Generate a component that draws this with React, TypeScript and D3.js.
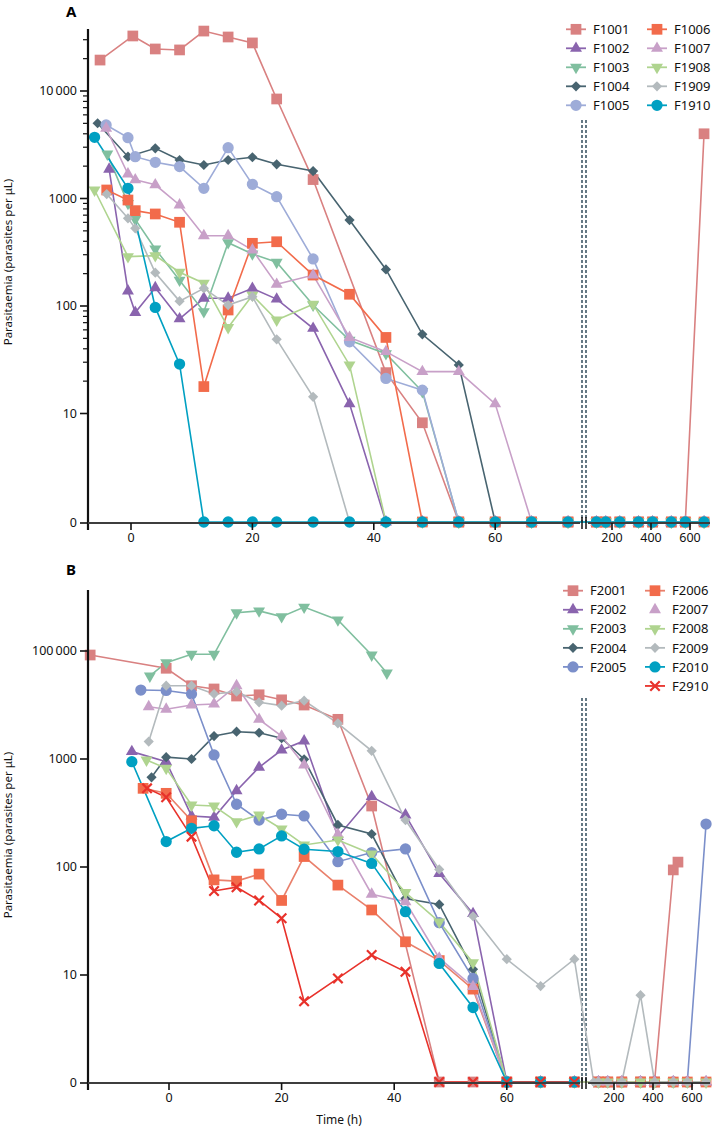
import React from "react";
import * as d3 from "d3";

type Pt = [number, number];

// ---------- Panel A data (time h, parasites/µL) ----------
const F1001: Pt[] = [[-5.1,19400],[0.3,32500],[4,24600],[8,24100],[12,36100],[16,31800],[20,28000],[24,8430],[30,1500],[42,24],[48,8.2],[54,0],[60,0],[66,0],[72,0],[120,0],[168,0],[240,0],[336,0],[408,0],[504,0],[576,0],[672,4000]];
const F1002: Pt[] = [[-3.6,1870],[-0.5,138],[0.7,87],[4,148],[8,76],[12,118],[16,118],[20,146],[24,116],[30,62],[36,12.3],[42,0],[48,0],[54,0],[60,0],[66,0],[72,0],[120,0],[168,0],[240,0],[336,0],[408,0],[504,0],[576,0],[672,0]];
const F1003: Pt[] = [[-3.9,2590],[-0.5,900],[0.7,640],[4,339],[8,174],[12,88.5],[16,388],[20,305],[24,255],[30,102],[36,48],[42,36],[48,16],[54,0],[60,0],[66,0],[72,0],[120,0],[168,0],[240,0],[336,0],[408,0],[504,0],[576,0],[672,0]];
const F1004: Pt[] = [[-5.5,5010],[-0.5,2450],[4,2930],[8,2280],[12,2050],[16,2280],[20,2420],[24,2080],[30,1800],[36,630],[42,219],[48,54.5],[54,28.3],[60,0],[66,0],[72,0],[120,0],[168,0],[240,0],[336,0],[408,0],[504,0],[576,0],[672,0]];
const F1005: Pt[] = [[-4.1,4830],[-0.5,3680],[0.7,2450],[4,2170],[8,1980],[12,1245],[16,2970],[20,1355],[24,1040],[30,274],[36,46.5],[42,21.2],[48,16.5],[54,0],[60,0],[66,0],[72,0],[120,0],[168,0],[240,0],[336,0],[408,0],[504,0],[576,0],[672,0]];
const F1006: Pt[] = [[-4,1200],[-0.5,968],[0.7,771],[4,718],[8,601],[12,17.8],[16,91.8],[20,383],[24,396],[30,194],[36,128.6],[42,51],[48,0],[54,0],[60,0],[66,0],[72,0],[120,0],[168,0],[240,0],[336,0],[408,0],[504,0],[576,0],[672,0]];
const F1007: Pt[] = [[-4.1,4500],[-0.5,1690],[0.7,1490],[4,1340],[8,871],[12,451],[16,451],[20,332],[24,159],[30,194],[36,51],[42,37.6],[48,24.5],[54,24.5],[60,12.3],[66,0],[72,0],[120,0],[168,0],[240,0],[336,0],[408,0],[504,0],[576,0],[672,0]];
const F1908: Pt[] = [[-6,1200],[-0.5,288],[4,294],[8,206],[12,163],[16,63],[20,126],[24,74],[30,104],[36,28.3],[42,0],[48,0],[54,0],[60,0],[66,0],[72,0],[120,0],[168,0],[240,0],[336,0],[408,0],[504,0],[576,0],[672,0]];
const F1909: Pt[] = [[-4,1100],[-0.5,654],[0.7,528],[4,204],[8,111],[12,146],[16,102],[20,122],[24,49],[30,14.3],[36,0],[42,0],[48,0],[54,0],[60,0],[66,0],[72,0],[120,0],[168,0],[240,0],[336,0],[408,0],[504,0],[576,0],[672,0]];
const F1910: Pt[] = [[-6,3710],[-0.5,1245],[4,97],[8,28.8],[12,0],[16,0],[20,0],[24,0],[30,0],[36,0],[42,0],[48,0],[54,0],[60,0],[66,0],[72,0],[120,0],[168,0],[240,0],[336,0],[408,0],[504,0],[576,0],[672,0]];

// ---------- Panel B data ----------
const F2001: Pt[] = [[-14,9180],[-0.5,6920],[4,4770],[8,4450],[12,3830],[16,3930],[20,3530],[24,3160],[30,2330],[36,367],[48,0],[54,0],[60,0],[66,0],[72,0],[120,0],[168,0],[240,0],[336,0],[408,0],[504,94],[528,111]];
const F2002: Pt[] = [[-6.6,1170],[-0.5,944],[4,297],[8,288],[12,509],[16,838],[20,1210],[24,1470],[30,191],[36,448],[42,303],[48,87],[54,37],[60,0],[66,0],[72,0],[120,0],[168,0],[240,0],[336,0],[408,0],[504,0],[576,0],[672,0]];
const F2003: Pt[] = [[-3.4,5870],[-0.5,7800],[4,9320],[8,9320],[12,22600],[16,23500],[20,20800],[24,25500],[30,19400],[36,9180],[38.7,6250]];
const F2004: Pt[] = [[-3.1,677],[-0.5,1040],[4,1000],[8,1630],[12,1790],[16,1750],[20,1560],[24,994],[30,245],[36,202],[42,51],[48,45],[54,11.3],[60,0],[66,0],[72,0],[120,0],[168,0],[240,0],[336,0],[408,0],[504,0],[576,0],[672,0]];
const F2005: Pt[] = [[-5,4350],[-0.5,4310],[4,4000],[8,1090],[12,381],[16,272],[20,308],[24,297],[30,112],[36,136],[42,147],[48,30.5],[54,9.3],[60,0],[66,0],[72,0],[120,0],[168,0],[240,0],[336,0],[408,0],[504,0],[576,0],[672,250]];
const F2006: Pt[] = [[-4.6,535],[-0.5,481],[4,268],[8,76],[12,74],[16,86],[20,49],[24,125],[30,68],[36,40],[42,20.3],[48,13.6],[54,7.4],[60,0],[66,0],[72,0],[120,0],[168,0],[240,0],[336,0],[408,0],[504,0],[576,0],[672,0]];
const F2007: Pt[] = [[-3.6,3050],[-0.5,2890],[4,3160],[8,3230],[12,4770],[16,2330],[20,1630],[24,880],[30,200],[36,56],[42,47.7],[48,14.3],[54,7.8],[60,0],[66,0],[72,0],[120,0],[168,0],[240,0],[336,0],[408,0],[504,0],[576,0],[672,0]];
const F2008: Pt[] = [[-4,979],[-0.5,820],[4,375],[8,367],[12,263],[16,303],[20,225],[24,160],[30,178],[36,132],[42,58],[48,31],[54,13],[60,0],[66,0],[72,0],[120,0],[168,0],[240,0],[336,0],[408,0],[504,0],[576,0],[672,0]];
const F2009: Pt[] = [[-3.6,1450],[-0.5,4770],[4,4770],[8,4000],[12,4200],[16,3350],[20,3120],[24,3470],[30,2140],[36,1190],[42,272],[48,95],[54,35],[60,14],[66,7.9],[72,14],[96,0],[120,0],[168,0],[240,0],[336,6.5],[408,0],[504,0],[576,0],[672,0]];
const F2010: Pt[] = [[-6.6,944],[-0.5,172],[4,228],[8,241],[12,137],[16,147],[20,194],[24,146],[30,139],[36,108],[42,38.6],[48,12.8],[54,5.0],[60,0],[66,0],[72,0]];
const F2910: Pt[] = [[-3.9,535],[-0.5,442],[4,191],[8,60],[12,65],[16,49],[20,33.5],[24,5.7],[30,9.3],[36,15.3],[42,10.7],[48,0],[54,0],[60,0],[66,0],[72,0]];

// ---------- ticks ----------
const Y_TICKS = [10000, 1000, 100, 10, 0];
const Y_LABELS_A = ["10\u2009000", "1000", "100", "10", "0"];
const Y_LABELS_B = ["100\u2009000", "1000", "100", "10", "0"];
const X_TICKS_MAIN = [0, 20, 40, 60];
const X_TICKS_RIGHT = [200, 400, 600];

type Marker = "square" | "triangle" | "down" | "diamond" | "circle" | "x" ;
interface Series { name: string; data: Pt[]; stroke: string; fill: string; marker: Marker; legendLine?: boolean }

const C = {
  salmon: "#d98181", purple: "#8a64ae", teal: "#80bf9f", slate: "#486470",
  peri: "#9eacd8", periB: "#7b8fca", orange: "#f26b4b", lilac: "#c8a0c8",
  lgreen: "#afd48f", gray: "#b3babd", cyan: "#00a0c2", red: "#e8322b",
};

const seriesA: Series[] = [
  { name: "F1001", data: F1001, stroke: C.salmon, fill: C.salmon, marker: "square" },
  { name: "F1002", data: F1002, stroke: C.purple, fill: C.purple, marker: "triangle" },
  { name: "F1003", data: F1003, stroke: C.teal, fill: C.teal, marker: "down" },
  { name: "F1004", data: F1004, stroke: C.slate, fill: C.slate, marker: "diamond" },
  { name: "F1005", data: F1005, stroke: C.peri, fill: C.peri, marker: "circle" },
  { name: "F1006", data: F1006, stroke: C.orange, fill: C.orange, marker: "square" },
  { name: "F1007", data: F1007, stroke: C.lilac, fill: C.lilac, marker: "triangle" },
  { name: "F1908", data: F1908, stroke: C.lgreen, fill: C.lgreen, marker: "down" },
  { name: "F1909", data: F1909, stroke: C.gray, fill: C.gray, marker: "diamond" },
  { name: "F1910", data: F1910, stroke: C.cyan, fill: C.cyan, marker: "circle" },
];
const seriesB: Series[] = [
  { name: "F2001", data: F2001, stroke: C.salmon, fill: C.salmon, marker: "square" },
  { name: "F2002", data: F2002, stroke: C.purple, fill: C.purple, marker: "triangle" },
  { name: "F2003", data: F2003, stroke: C.teal, fill: C.teal, marker: "down" },
  { name: "F2004", data: F2004, stroke: C.slate, fill: C.slate, marker: "diamond" },
  { name: "F2005", data: F2005, stroke: C.periB, fill: C.periB, marker: "circle" },
  { name: "F2006", data: F2006, stroke: "#e9806c", fill: C.orange, marker: "square" },
  { name: "F2007", data: F2007, stroke: C.lilac, fill: C.lilac, marker: "triangle", legendLine: false },
  { name: "F2008", data: F2008, stroke: C.lgreen, fill: C.lgreen, marker: "down" },
  { name: "F2009", data: F2009, stroke: C.gray, fill: C.gray, marker: "diamond" },
  { name: "F2010", data: F2010, stroke: C.cyan, fill: C.cyan, marker: "circle" },
  { name: "F2910", data: F2910, stroke: C.red, fill: C.red, marker: "x" },
];

const FONT = "'Noto Sans', 'Open Sans', sans-serif";

function MarkerShape({ m, x, y, fill }: { m: Marker; x: number; y: number; fill: string }) {
  const sq = d3.symbol().type(d3.symbolSquare);
  if (m === "square") return <path d={sq.size(115)()!} transform={`translate(${x},${y})`} fill={fill} />;
  if (m === "diamond") return <path d={sq.size(52)()!} transform={`translate(${x},${y}) rotate(45)`} fill={fill} />;
  if (m === "circle") return <path d={d3.symbol().type(d3.symbolCircle).size(100)()!} transform={`translate(${x},${y})`} fill={fill} />;
  if (m === "triangle") return <path d={d3.symbol().type(d3.symbolTriangle).size(62)()!} transform={`translate(${x},${y})`} fill={fill} />;
  if (m === "down") return <path d={d3.symbol().type(d3.symbolTriangle).size(62)()!} transform={`translate(${x},${y}) rotate(180)`} fill={fill} />;
  return <path d={d3.symbol().type(d3.symbolX).size(60)()!} transform={`translate(${x},${y})`} fill="none" stroke={fill} strokeWidth={2.2} />;
}

interface PanelCfg {
  label: string; labelY: number;
  series: Series[]; yLabels: string[];
  yRange: [number, number];
  yTop: number; axisY: number; zeroY: number;
  xMainRange: [number, number];
  xRightRange: [number, number];
  dashTop: number;
  legendX: [number, number]; legendY0: number; legendDy: number;
  minor: boolean;
  titleY: number;
}

const LEFT = 88, MAIN_END = 580, BREAK1 = 582, BREAK2 = 586, RIGHT_START = 588, RIGHT_END = 710;

function Panel({ cfg }: { cfg: PanelCfg }) {
  const yLog = d3.scaleLog().domain([1, 10000]).range(cfg.yRange);
  const Y = (v: number) => (v <= 0 ? cfg.zeroY : yLog(v));
  const xMain = d3.scaleLinear().domain([0, 60]).range(cfg.xMainRange);
  const xRight = d3.scaleLinear().domain([200, 600]).range(cfg.xRightRange);
  const X = (t: number) => (t <= 74 ? xMain(t) : xRight(t));
  const line = d3.line<Pt>().x(d => X(d[0])).y(d => Y(d[1]));

  const minorVals: number[] = [];
  if (cfg.minor) {
    for (let k = 1; k <= 4; k++) for (let m = 2; m <= 9; m++) {
      const v = m * Math.pow(10, k);
      if (yLog(v) >= cfg.yTop) minorVals.push(v);
    }
  }
  const legendCols = [cfg.series.slice(0, 5), cfg.series.slice(5)];

  return (
    <g>
      <text x={66} y={cfg.labelY} fontFamily={FONT} fontWeight="bold" fontSize={15}>{cfg.label}</text>
      <text transform={`translate(12,${cfg.titleY}) rotate(-90)`} textAnchor="middle" fontFamily={FONT} fontSize={11.5} fill="#111">
        Parasitaemia (parasites per μL)
      </text>
      {[BREAK1, BREAK2].map(bx => (
        <line key={bx} x1={bx} x2={bx} y1={cfg.dashTop} y2={cfg.axisY} stroke="#3f5866" strokeWidth={1.6} strokeDasharray="3,2" />
      ))}
      {cfg.series.map(s => (
        <path key={s.name + "l"} d={line(s.data)!} fill="none" stroke={s.stroke} strokeWidth={1.6} />
      ))}
      {cfg.series.map(s => (
        <g key={s.name + "m"}>
          {s.data.map((d, i) => <MarkerShape key={i} m={s.marker} x={X(d[0])} y={Y(d[1])} fill={s.fill} />)}
        </g>
      ))}
      <line x1={LEFT} x2={LEFT} y1={cfg.yTop} y2={cfg.axisY + 7} stroke="#111" strokeWidth={2.2} />
      {Y_TICKS.map((v, i) => (
        <g key={v}>
          <line x1={LEFT - 8} x2={LEFT} y1={Y(v) + (v <= 0 ? 1 : 0)} y2={Y(v) + (v <= 0 ? 1 : 0)} stroke="#111" strokeWidth={1.6} />
          <text x={LEFT - 11} y={Y(v) + (v <= 0 ? 1 : 0)} dy="0.35em" textAnchor="end" fontFamily={FONT} fontSize={12.5} fill="#111">{cfg.yLabels[i]}</text>
        </g>
      ))}
      {minorVals.map(v => (
        <line key={"mn" + v} x1={LEFT - 5} x2={LEFT} y1={yLog(v)} y2={yLog(v)} stroke="#111" strokeWidth={1.2} />
      ))}
      <line x1={LEFT} x2={MAIN_END} y1={cfg.axisY} y2={cfg.axisY} stroke="#3d3d3d" strokeWidth={2} />
      <line x1={RIGHT_START} x2={RIGHT_END} y1={cfg.axisY} y2={cfg.axisY} stroke="#3d3d3d" strokeWidth={2} />
      {[BREAK1, BREAK2].map(bx => (
        <line key={"b" + bx} x1={bx} x2={bx} y1={cfg.axisY - 6} y2={cfg.axisY + 6} stroke="#111" strokeWidth={1.5} />
      ))}
      {X_TICKS_MAIN.map(t => (
        <g key={"xm" + t}>
          <line x1={xMain(t)} x2={xMain(t)} y1={cfg.axisY} y2={cfg.axisY + 7} stroke="#111" strokeWidth={1.6} />
          <text x={xMain(t)} y={cfg.axisY + 19} textAnchor="middle" fontFamily={FONT} fontSize={12.5} fill="#111">{t}</text>
        </g>
      ))}
      {X_TICKS_RIGHT.map(t => (
        <g key={"xr" + t}>
          <line x1={xRight(t)} x2={xRight(t)} y1={cfg.axisY} y2={cfg.axisY + 7} stroke="#111" strokeWidth={1.6} />
          <text x={xRight(t)} y={cfg.axisY + 19} textAnchor="middle" fontFamily={FONT} fontSize={12.5} fill="#111">{t}</text>
        </g>
      ))}
      {legendCols.map((col, ci) => col.map((s, ri) => {
        const lx = cfg.legendX[ci];
        const ly = cfg.legendY0 + ri * cfg.legendDy;
        return (
          <g key={"lg" + s.name}>
            {s.legendLine !== false && <line x1={lx - 10} x2={lx + 10} y1={ly} y2={ly} stroke={s.stroke} strokeWidth={1.8} />}
            <MarkerShape m={s.marker} x={lx} y={ly} fill={s.fill} />
            <text x={lx + 17} y={ly} dy="0.36em" fontFamily={FONT} fontSize={13} fill="#111">{s.name}</text>
          </g>
        );
      }))}
    </g>
  );
}

const cfgA: PanelCfg = {
  label: "A", labelY: 17, series: seriesA, yLabels: Y_LABELS_A,
  yRange: [521, 91], yTop: 29, axisY: 523, zeroY: 522,
  xMainRange: [131, 495.2], xRightRange: [612, 690], dashTop: 120,
  legendX: [576, 657], legendY0: 29.3, legendDy: 19, minor: true, titleY: 262,
};
const cfgB: PanelCfg = {
  label: "B", labelY: 575, series: seriesB, yLabels: Y_LABELS_B,
  yRange: [1083, 651], yTop: 590, axisY: 1083, zeroY: 1082,
  xMainRange: [169, 506.8], xRightRange: [614, 692], dashTop: 698,
  legendX: [573, 655], legendY0: 590.7, legendDy: 19.05, minor: false, titleY: 835,
};

export default function App() {
  return (
    <svg width={713} height={1132} style={{ position: "absolute", left: 0, top: 0, background: "#fff" }}>
      <rect width={713} height={1132} fill="#fff" />
      <Panel cfg={cfgA} />
      <Panel cfg={cfgB} />
      <text x={339} y={1124} textAnchor="middle" fontFamily={FONT} fontSize={12} fill="#111">Time (h)</text>
    </svg>
  );
}
